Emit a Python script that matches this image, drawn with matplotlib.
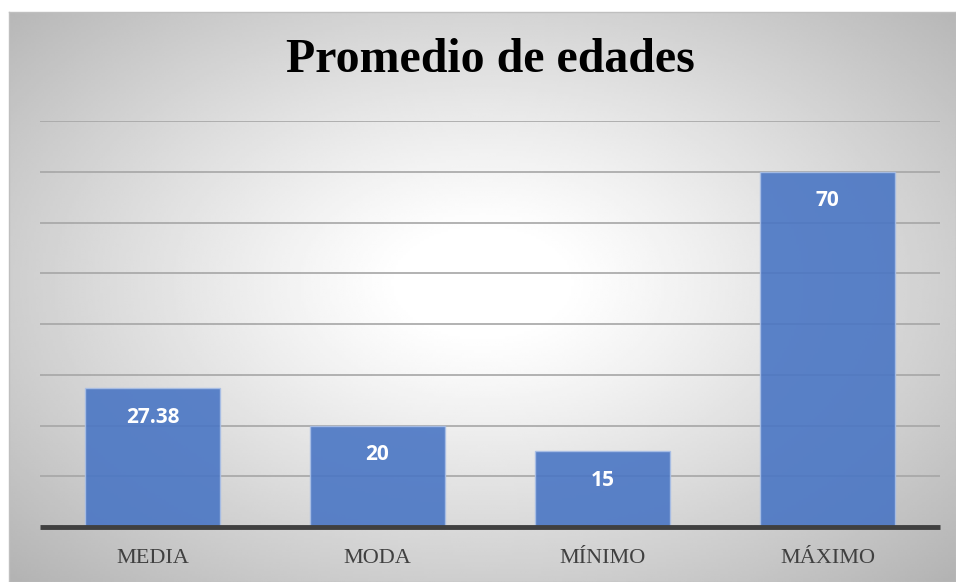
import numpy as np
import matplotlib
matplotlib.use("Agg")
import matplotlib.pyplot as plt

categorias = ["MEDIA", "MODA", "MÍNIMO", "MÁXIMO"]
valores = [27.38, 20, 15, 70]
etiquetas = ["27.38", "20", "15", "70"]
titulo = "Promedio de edades"

W, H = 956, 582
fig = plt.figure(figsize=(W / 100, H / 100), dpi=100)
fig.patch.set_facecolor("white")

# fondo con degradado radial
bg = fig.add_axes([9 / W, 0, (W - 9) / W, (H - 12) / H])
nx, ny = 400, 240
xx, yy = np.meshgrid(np.linspace(-1, 1, nx), np.linspace(-1, 1, ny))
yy = yy + 0.05
d = np.sqrt(xx ** 2 + (yy * 0.95) ** 2) / np.sqrt(2)
v = 1 - 0.30 * np.clip((d - 0.12) / 0.88, 0, 1) ** 1.1
bg.imshow(v, cmap="gray", vmin=0, vmax=1, aspect="auto", extent=[0, 1, 0, 1],
          interpolation="bilinear")
bg.set_xticks([])
bg.set_yticks([])
for s in bg.spines.values():
    s.set_color("#bfbfbf")
    s.set_linewidth(1)

ax = fig.add_axes([40 / W, (H - 527) / H, 900 / W, 406 / H])
ax.set_facecolor("none")
x = np.arange(len(categorias))
ax.bar(x, valores, width=0.6, color="#4a76c4", alpha=0.9,
       edgecolor="#a9bfe6", linewidth=1, zorder=3)
ax.set_xlim(-0.5, len(categorias) - 0.5)
ax.set_ylim(0, 80)
ax.set_yticks(np.arange(10, 81, 10))
ax.yaxis.grid(True, color="#a6a6a6", linewidth=1.2, zorder=1)
ax.set_axisbelow(True)
ax.tick_params(axis="y", left=False, labelleft=False)
ax.tick_params(axis="x", length=0, pad=16)
ax.set_xticks(x)
ax.set_xticklabels(categorias, fontfamily="Liberation Serif", fontsize=16,
                   color="#404040")
for s in ["top", "right", "left"]:
    ax.spines[s].set_visible(False)
ax.spines["bottom"].set_color("#404040")
ax.spines["bottom"].set_linewidth(3.5)
ax.spines["bottom"].set_capstyle("butt")
ax.spines["bottom"].set_zorder(4)

for xi, val, lab in zip(x, valores, etiquetas):
    ax.annotate(lab, (xi, val), xytext=(0, -21), textcoords="offset points",
                ha="center", va="center", color="white", fontsize=15,
                fontweight="bold", fontfamily="Open Sans", zorder=5)

fig.text(490 / W, 1 - 60 / H, titulo, ha="center", va="center",
         fontfamily="Liberation Serif", fontweight="bold", fontsize=34.5,
         color="black")

fig.savefig("out.png", dpi=100)
